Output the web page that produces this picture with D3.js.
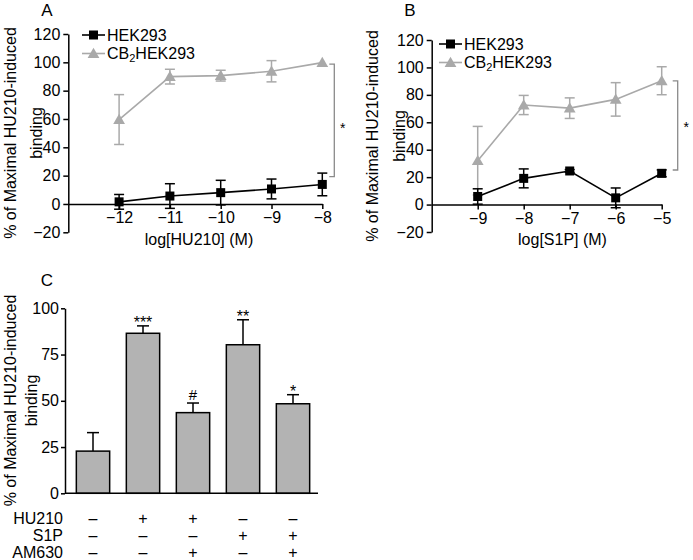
<!DOCTYPE html>
<html>
<head>
<meta charset="utf-8">
<script src="https://cdn.jsdelivr.net/npm/d3@7"></script>
<style>
  html, body { margin: 0; padding: 0; background: #fff; }
  svg text { font-family: "Liberation Sans", Arial, Helvetica, sans-serif; }
</style>
</head>
<body>
<svg id="chart" width="693" height="560"></svg>
<script>
// ---------- data ----------
const xTicksA = [-12, -11, -10, -9, -8];
const hekA = [1.5, 5.6, 8.0, 10.6, 13.8];
const hekAErr = [5.2, 8.7, 8.7, 7.0, 8.0];
const cbA = [59.6, 89.9, 90.6, 93.7, 99.8];
const cbAErr = [17.6, 5.2, 3.8, 7.5, 0];

const xTicksB = [-9, -8, -7, -6, -5];
const hekB = [5.9, 19.1, 24.5, 4.9, 22.8];
const hekBErr = [5.6, 6.9, 1.0, 7.2, 2.5];
const cbB = [32.0, 72.6, 70.3, 76.7, 90.3];
const cbBErr = [25.0, 7.0, 7.5, 12.2, 10.2];

const yTicksAB = [-20, 0, 20, 40, 60, 80, 100, 120];
const seriesNames = ["HEK293", "CB2HEK293"];

const condC = ["c1", "c2", "c3", "c4", "c5"];
const barC = [22.8, 86.5, 43.6, 80.3, 48.4];
const barCErr = [10.0, 4.0, 5.2, 13.5, 4.9];
const sigC = ["", "***", "#", "**", "*"];
const yTicksC = [0, 25, 50, 75, 100];
const rowLabels = ["HU210", "S1P", "AM630"];
const rowHU210 = ["–", "+", "+", "–", "–"];
const rowS1P = ["–", "–", "–", "+", "+"];
const rowAM630 = ["–", "–", "+", "–", "+"];

// ---------- style ----------
const BLACK = "#000";
const GREY = "#a9a9a9";
const BRACKET = "#8a8a8a";
const BARFILL = "#b3b3b3";
const FS = 16;

const svg = d3.select("#chart");

function panelLetter(t, x, y) {
  svg.append("text").attr("x", x).attr("y", y).attr("text-anchor", "middle")
    .attr("font-size", 17).text(t);
}

function yTitle(x1, x2, yc) {
  svg.append("text").attr("transform", `translate(${x1},${yc}) rotate(-90)`)
    .attr("text-anchor", "middle").attr("font-size", FS).text("% of Maximal HU210-induced");
  svg.append("text").attr("transform", `translate(${x2},${yc}) rotate(-90)`)
    .attr("text-anchor", "middle").attr("font-size", FS).text("binding");
}

function stylAxis(g) {
  g.selectAll("path, line").attr("stroke", BLACK).attr("stroke-width", 1.5);
  g.selectAll("text").attr("font-size", FS).attr("fill", BLACK)
    .attr("font-family", '"Liberation Sans", Arial, sans-serif');
}

function linePanel(cfg) {
  const x = d3.scaleLinear().domain(cfg.xDomain).range(cfg.xRange);
  const y = d3.scaleLinear().domain([-20, 120]).range(cfg.yRange);

  // axes
  const gy = svg.append("g").attr("transform", `translate(${cfg.xRange[0]},0)`)
    .call(d3.axisLeft(y).tickValues(yTicksAB).tickSize(5).tickSizeOuter(0).tickPadding(3).tickFormat(d3.format("d")));
  stylAxis(gy);
  const gx = svg.append("g").attr("transform", `translate(0,${y(0)})`)
    .call(d3.axisBottom(x).tickValues(cfg.xTicks).tickSize(5).tickSizeOuter(0).tickPadding(3).tickFormat(d3.format("d")));
  stylAxis(gx);

  const line = d3.line().x((d, i) => x(cfg.xTicks[i])).y(d => y(d));

  function drawSeries(vals, errs, color, marker) {
    const g = svg.append("g");
    // error bars
    vals.forEach((v, i) => {
      if (errs[i] <= 0) return;
      const cx = x(cfg.xTicks[i]);
      const y1 = y(v + errs[i]), y2 = y(v - errs[i]);
      g.append("line").attr("x1", cx).attr("x2", cx).attr("y1", y1).attr("y2", y2)
        .attr("stroke", color).attr("stroke-width", 1.5);
      [y1, y2].forEach(yy => g.append("line").attr("x1", cx - 5).attr("x2", cx + 5)
        .attr("y1", yy).attr("y2", yy).attr("stroke", color).attr("stroke-width", 1.5));
    });
    g.append("path").datum(vals).attr("d", line).attr("fill", "none")
      .attr("stroke", color).attr("stroke-width", 1.6);
    vals.forEach((v, i) => {
      const cx = x(cfg.xTicks[i]), cy = y(v);
      if (marker === "square") {
        g.append("rect").attr("x", cx - 4.5).attr("y", cy - 4.5).attr("width", 9).attr("height", 9).attr("fill", color);
      } else {
        g.append("path").attr("d", d3.symbol(d3.symbolTriangle, 60)()).attr("transform", `translate(${cx},${cy + 1})`).attr("fill", color);
      }
    });
  }
  drawSeries(cfg.cb, cfg.cbErr, GREY, "triangle");
  drawSeries(cfg.hek, cfg.hekErr, BLACK, "square");

  // legend
  const lg = svg.append("g");
  const lx0 = cfg.legend[0], ly0 = cfg.legend[1];
  const rows = [{ name: seriesNames[0], color: BLACK, marker: "square", dy: 0 },
                { name: seriesNames[1], color: GREY, marker: "triangle", dy: 18.5 }];
  rows.forEach(r => {
    const yy = ly0 + r.dy;
    lg.append("line").attr("x1", lx0).attr("x2", lx0 + 23).attr("y1", yy).attr("y2", yy)
      .attr("stroke", r.color).attr("stroke-width", 1.6);
    if (r.marker === "square") {
      lg.append("rect").attr("x", lx0 + 7).attr("y", yy - 4.5).attr("width", 9).attr("height", 9).attr("fill", r.color);
    } else {
      lg.append("path").attr("d", d3.symbol(d3.symbolTriangle, 60)()).attr("transform", `translate(${lx0 + 11.5},${yy + 1})`).attr("fill", r.color);
    }
    const t = lg.append("text").attr("x", lx0 + 25).attr("y", yy + 5.8).attr("font-size", FS);
    if (r.name === "CB2HEK293") {
      t.append("tspan").text("CB");
      t.append("tspan").attr("font-size", 11).attr("dy", 3).text("2");
      t.append("tspan").attr("dy", -3).text("HEK293");
    } else {
      t.text(r.name);
    }
  });

  // significance bracket
  const bx = cfg.bracketX;
  const bt = y(cfg.bracket[1]), bb = y(cfg.bracket[0]);
  svg.append("path").attr("d", `M${bx - 5},${bt}H${bx}V${bb}H${bx - 5}`)
    .attr("fill", "none").attr("stroke", BRACKET).attr("stroke-width", 1.3);
  svg.append("text").attr("x", bx + 8.5).attr("y", cfg.starY).attr("text-anchor", "middle")
    .attr("font-size", 14).text("*");

  // x title
  svg.append("text").attr("x", cfg.xTitle[0]).attr("y", cfg.xTitle[1]).attr("text-anchor", "middle")
    .attr("font-size", FS).text(cfg.xLabel);
}

// Panel A
panelLetter("A", 47, 16);
yTitle(15.5, 42, 133);
linePanel({
  xDomain: [-13, -8], xRange: [68.3, 322.3], yRange: [232.3, 34],
  xTicks: xTicksA, hek: hekA, hekErr: hekAErr, cb: cbA, cbErr: cbAErr,
  legend: [82, 35], bracketX: 334.3, bracket: [19.3, 98.7], starY: 133,
  xTitle: [199, 245], xLabel: "log[HU210] (M)"
});

// Panel B
panelLetter("B", 410, 16);
yTitle(378, 405, 136);
linePanel({
  xDomain: [-10, -5], xRange: [431.7, 661.7], yRange: [232, 40],
  xTicks: xTicksB, hek: hekB, hekErr: hekBErr, cb: cbB, cbErr: cbBErr,
  legend: [439, 44], bracketX: 677.7, bracket: [25.2, 90.2], starY: 132,
  xTitle: [562.5, 245], xLabel: "log[S1P] (M)"
});

// Panel C
panelLetter("C", 47, 285.5);
yTitle(16, 37, 400.5);
(function () {
  const y = d3.scaleLinear().domain([0, 100]).range([493.3, 308.3]);
  const x = d3.scaleBand().domain(condC).range([68, 318]).paddingInner(1 / 3).paddingOuter(1 / 6);

  // bars
  const g = svg.append("g");
  condC.forEach((c, i) => {
    const cx = x(c) + x.bandwidth() / 2;
    const top = y(barC[i] + barCErr[i]);
    g.append("line").attr("x1", cx).attr("x2", cx).attr("y1", y(barC[i])).attr("y2", top)
      .attr("stroke", BLACK).attr("stroke-width", 1.5);
    g.append("line").attr("x1", cx - 6).attr("x2", cx + 6).attr("y1", top).attr("y2", top)
      .attr("stroke", BLACK).attr("stroke-width", 1.5);
    g.append("rect").attr("x", x(c)).attr("y", y(barC[i])).attr("width", x.bandwidth())
      .attr("height", y(0) - y(barC[i])).attr("fill", BARFILL).attr("stroke", BLACK).attr("stroke-width", 1.5);
    if (sigC[i]) {
      const isHash = sigC[i] === "#";
      g.append("text").attr("x", cx).attr("y", isHash ? top - 3 : top + 2).attr("text-anchor", "middle")
        .attr("font-size", isHash ? 15 : 16).text(sigC[i]);
    }
  });

  const gy = svg.append("g").attr("transform", "translate(65,0)")
    .call(d3.axisLeft(y).tickValues(yTicksC).tickSize(4).tickSizeOuter(0).tickPadding(2));
  stylAxis(gy);
  svg.append("line").attr("x1", 65).attr("x2", 318).attr("y1", y(0)).attr("y2", y(0))
    .attr("stroke", BLACK).attr("stroke-width", 1.5);

  // condition table
  const rows = [rowHU210, rowS1P, rowAM630];
  const rowY = [518.3, 535, 552];
  rows.forEach((r, j) => {
    svg.append("text").attr("x", 63).attr("y", rowY[j] + 5.5).attr("text-anchor", "end")
      .attr("font-size", FS).text(rowLabels[j]);
    r.forEach((s, i) => {
      const cx = x(condC[i]) + x.bandwidth() / 2;
      svg.append("text").attr("x", cx).attr("y", rowY[j] + 5.5).attr("text-anchor", "middle")
        .attr("font-size", FS).text(s);
    });
  });
})();
</script>
</body>
</html>
